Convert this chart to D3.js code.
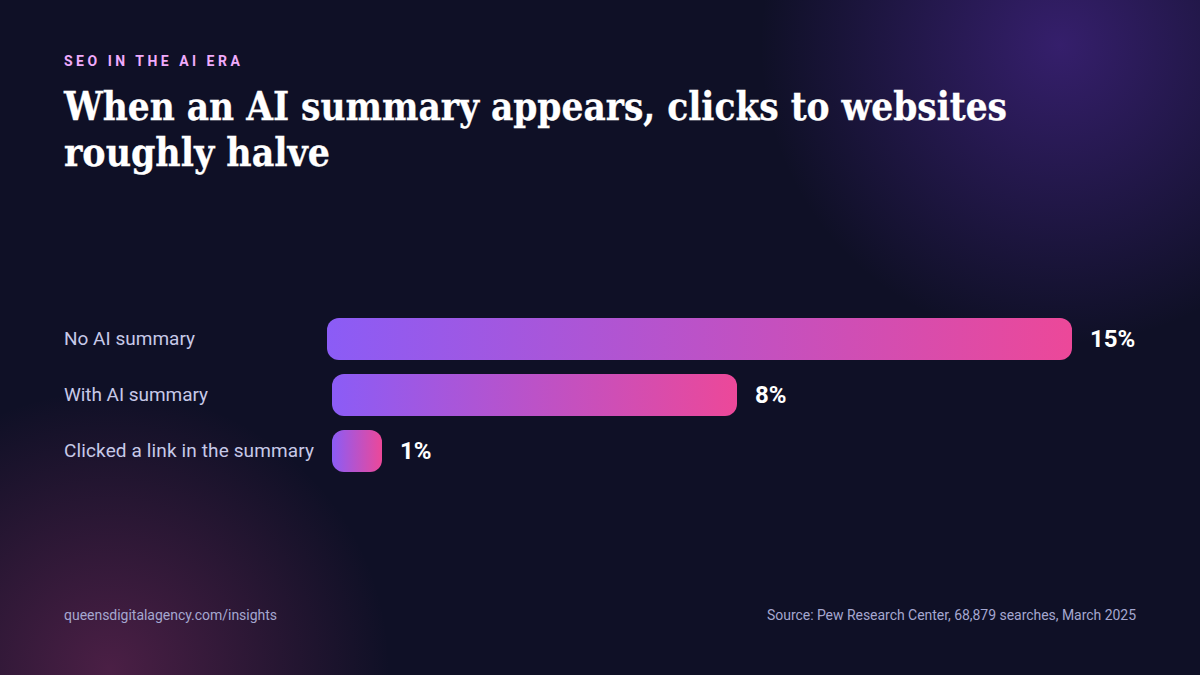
<!DOCTYPE html>
<html>
<head>
<meta charset="utf-8">
<script src="https://cdn.jsdelivr.net/npm/d3@7"></script>
<style>
  html, body { margin: 0; padding: 0; background: #0f1026; }
  svg { display: block; }
  text { font-family: Roboto, sans-serif; text-rendering: optimizeSpeed; }
</style>
</head>
<body>
<div id="chart"></div>
<script>
const categories = ['No AI summary', 'With AI summary', 'Clicked a link in the summary'];
const values = [15, 8, 1];
const eyebrow = 'SEO IN THE AI ERA';
const titleLines = ['When an AI summary appears, clicks to websites', 'roughly halve'];
const footerLeft = 'queensdigitalagency.com/insights';
const footerRight = 'Source: Pew Research Center, 68,879 searches, March 2025';

const width = 1200, height = 675;
const svg = d3.select('#chart').append('svg')
  .attr('width', width)
  .attr('height', height);
const defs = svg.append('defs');

// background and the two corner glows
function glow(id, colour, opacity) {
  let g = defs.append('radialGradient').attr('id', id);
  g.append('stop').attr('offset', '0%').attr('stop-color', colour).attr('stop-opacity', opacity);
  g.append('stop').attr('offset', '100%').attr('stop-color', colour).attr('stop-opacity', 0);
}
glow('glowPurple', '#7c3aed', 0.35);
glow('glowPink', '#ec4899', 0.27);

svg.append('rect').attr('width', width).attr('height', height).attr('fill', '#0f1026');
svg.append('circle').attr('cx', 1060).attr('cy', 45).attr('r', 300).attr('fill', 'url(#glowPurple)');
svg.append('circle').attr('cx', 110).attr('cy', 670).attr('r', 280).attr('fill', 'url(#glowPink)');

// header
svg.append('text')
  .attr('x', 64).attr('y', 66)
  .attr('fill', '#f0abfc')
  .attr('font-size', 14).attr('font-weight', 700)
  .attr('letter-spacing', 3.5)
  .text(eyebrow);

// no slab face is installed, so the condensed serif is fitted to the reference line widths
const titleWidths = [943, 266];
svg.selectAll('.title')
  .data(titleLines)
  .enter().append('text')
  .classed('title', true)
  .attr('x', 64)
  .attr('y', (d, i) => 120 + i * 46)
  .attr('fill', '#ffffff')
  .attr('stroke', '#ffffff')
  .attr('stroke-width', 0.3)
  .attr('font-size', 40).attr('font-weight', 700)
  .attr('textLength', (d, i) => titleWidths[i])
  .attr('lengthAdjust', 'spacingAndGlyphs')
  .style('font-family', '"DejaVu Serif Condensed", "DejaVu Serif", serif')
  .text(d => d);

// bars
const rowScale = d3.scaleBand()
  .domain(categories)
  .range([318, 472])
  .paddingInner(14 / 56);

// widths: they are not quite proportional, so the scale has a knot at each value
const lengthScale = d3.scaleLinear()
  .domain([1, 8, 15])
  .range([50, 405, 745]);

// the longest row starts a little further left
const barStart = d => d === d3.max(values) ? 327 : 332;

const barGrad = defs.append('linearGradient')
  .attr('id', 'barGrad')
  .attr('x1', '0%').attr('x2', '100%').attr('y1', '0%').attr('y2', '0%');
barGrad.append('stop').attr('offset', '0%').attr('stop-color', '#8b5cf6');
barGrad.append('stop').attr('offset', '100%').attr('stop-color', '#ec4899');

const rows = svg.selectAll('.row')
  .data(categories.map((c, i) => ({ category: c, value: values[i] })))
  .enter().append('g')
  .classed('row', true)
  .attr('transform', d => 'translate(0,' + rowScale(d.category) + ')');

// label advances differ a little from the reference, so fit them
const labelWidths = [131, 144, 250];
rows.append('text')
  .attr('x', 64)
  .attr('y', rowScale.bandwidth() / 2 - 1)
  .attr('dy', '0.35em')
  .attr('fill', '#c7c9e8')
  .attr('font-size', 19)
  .attr('textLength', (d, i) => labelWidths[i])
  .text(d => d.category);

rows.append('rect')
  .attr('x', d => barStart(d.value))
  .attr('width', d => lengthScale(d.value))
  .attr('height', rowScale.bandwidth())
  .attr('rx', 12)
  .attr('fill', 'url(#barGrad)');

rows.append('text')
  .attr('x', d => barStart(d.value) + lengthScale(d.value) + 18)
  .attr('y', rowScale.bandwidth() / 2)
  .attr('dy', '0.35em')
  .attr('fill', '#ffffff')
  .attr('font-size', 24).attr('font-weight', 700)
  .text(d => d.value + '%');

// footer
svg.append('text')
  .attr('x', 64).attr('y', 620)
  .attr('fill', '#a5a7d0')
  .attr('font-size', 14)
  .attr('textLength', 213)
  .text(footerLeft);

svg.append('text')
  .attr('x', 767).attr('y', 620)
  .attr('fill', '#a5a7d0')
  .attr('font-size', 14)
  .attr('textLength', 369)
  .text(footerRight);
</script>
</body>
</html>
